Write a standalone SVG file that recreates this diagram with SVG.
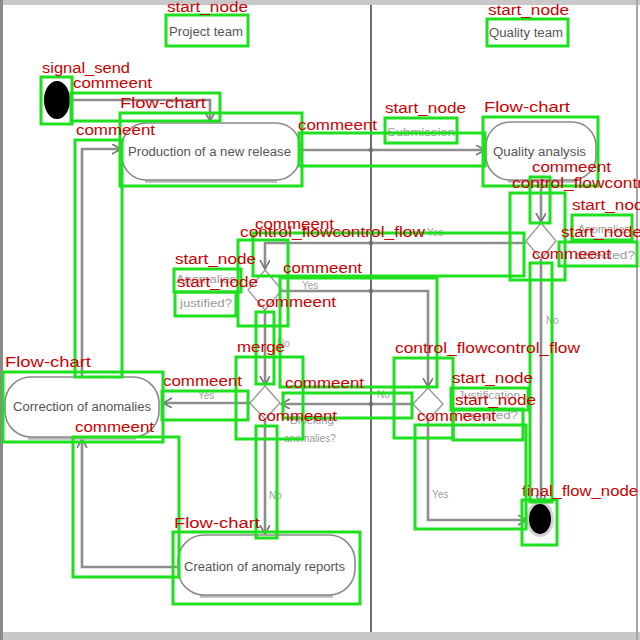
<svg xmlns="http://www.w3.org/2000/svg" width="640" height="640" viewBox="0 0 640 640">
  <defs>
    <marker id="open" markerUnits="userSpaceOnUse" markerWidth="12" markerHeight="12" refX="9" refY="5" orient="auto">
      <path d="M0,0 L9,5 L0,10" fill="none" stroke="#777" stroke-width="1.6"/>
    </marker>
    <style>
      .frame { fill: #c8c8c8; }
      .lane { stroke: #6e6e6e; stroke-width: 2; }
      .edge { fill: none; stroke: #8e8e8e; stroke-width: 2.6; marker-end: url(#open); }
      .act { fill: #ffffff; stroke: #8a8a8a; stroke-width: 1.6; }
      .shadow { fill: none; stroke: #b8b8b8; stroke-width: 3.5; }
      .dia { fill: #ffffff; stroke: #9a9a9a; stroke-width: 1.4; }
      .txt { font-family: "Liberation Sans", Arial, sans-serif; font-size: 12px; fill: #555555; }
      .small { font-family: "Liberation Sans", Arial, sans-serif; font-size: 10px; fill: #9a9a9a; }
      .guard { font-family: "Liberation Sans", Arial, sans-serif; font-size: 10px; fill: #a0a0a0; }
      .box { fill: none; stroke: #1fe01f; stroke-width: 3; }
      .tag { font-family: "Liberation Sans", Arial, sans-serif; font-size: 14px; fill: #cc0000; }
    </style>
  </defs>

  <rect width="640" height="640" fill="#ffffff"/>
  <!-- frame and swimlanes -->
  <rect class="frame" x="0" y="0" width="640" height="5"/>
  <rect class="frame" x="0" y="632" width="640" height="8"/>
  <rect x="0" y="0" width="3" height="640" fill="#8a8a8a"/>
  <rect x="636" y="0" width="2" height="640" fill="#a8a8a8"/>
  <line class="lane" x1="371" y1="5" x2="371" y2="632"/>

  <!-- connectors -->
  <g id="connectors">
    <path class="edge" d="M70,100 H210 V121"/>
    <path class="edge" d="M300,150 H485"/>
    <path class="edge" d="M82,376 V149 H121"/>
    <path class="edge" d="M541,180 V222"/>
    <path class="edge" d="M526,243 H265 V269"/>
    <path class="edge" d="M541,259 V504"/>
    <path class="edge" d="M282,291 H428 V387"/>
    <path class="edge" d="M265,310 V385"/>
    <path class="edge" d="M250,403 H163"/>
    <path class="edge" d="M413,404 H281"/>
    <path class="edge" d="M265,419 V534"/>
    <path class="edge" d="M428,420 V520 H527"/>
    <path class="edge" d="M177,567 H82 V439"/>
    <g fill="#707070">
      <circle cx="371" cy="150" r="2.2"/>
      <circle cx="371" cy="243" r="2.2"/>
      <circle cx="371" cy="291" r="2.2"/>
      <circle cx="371" cy="404" r="2.2"/>
    </g>
    <text class="guard" x="427" y="236">Yes</text>
    <text class="guard" x="302" y="289">Yes</text>
    <text class="guard" x="277" y="347">No</text>
    <text class="guard" x="198" y="399">Yes</text>
    <text class="guard" x="377" y="398">No</text>
    <text class="guard" x="269" y="499">No</text>
    <text class="guard" x="546" y="324">No</text>
    <text class="guard" x="432" y="498">Yes</text>
  </g>

  <!-- lane headers -->
  <g id="lane-project">
    <text class="txt" x="169" y="36" textLength="74" lengthAdjust="spacingAndGlyphs">Project team</text>
  </g>
  <g id="lane-quality">
    <text class="txt" x="489" y="37" textLength="74" lengthAdjust="spacingAndGlyphs">Quality team</text>
  </g>

  <!-- initial node -->
  <g id="initial">
    <ellipse cx="57" cy="100" rx="13" ry="19" fill="#000"/>
  </g>

  <!-- actions -->
  <g id="production">
    <path class="shadow" d="M145,181 H277"/>
    <rect class="act" x="122" y="123" width="178" height="57" rx="24"/>
    <text class="txt" x="128" y="156" textLength="163" lengthAdjust="spacingAndGlyphs">Production of a new release</text>
  </g>
  <g id="submission">
    <text class="small" x="387" y="136" textLength="68" lengthAdjust="spacingAndGlyphs">Submission</text>
  </g>
  <g id="quality-analysis">
    <path class="shadow" d="M508,181 H575"/>
    <rect class="act" x="486" y="122" width="110" height="58" rx="24"/>
    <text class="txt" x="493" y="156" textLength="93" lengthAdjust="spacingAndGlyphs">Quality analysis</text>
  </g>
  <g id="correction">
    <path class="shadow" d="M28,438 H136"/>
    <rect class="act" x="5" y="377" width="154" height="60" rx="26"/>
    <text class="txt" x="13" y="411" textLength="138" lengthAdjust="spacingAndGlyphs">Correction of anomalies</text>
  </g>
  <g id="creation">
    <path class="shadow" d="M200,596 H333"/>
    <rect class="act" x="178" y="535" width="177" height="60" rx="26"/>
    <text class="txt" x="184" y="571" textLength="161" lengthAdjust="spacingAndGlyphs">Creation of anomaly reports</text>
  </g>

  <!-- decisions -->
  <g id="decision-detected">
    <path class="dia" d="M541,223 L556,241 L541,259 L526,241 Z"/>
    <text class="small" x="578" y="233" textLength="52" lengthAdjust="spacingAndGlyphs">Anomalies</text>
    <text class="small" x="575" y="259" textLength="60" lengthAdjust="spacingAndGlyphs">detected?</text>
  </g>
  <g id="decision-justified">
    <path class="dia" d="M265,270 L282,290 L265,310 L248,290 Z"/>
    <text class="small" x="176" y="283" textLength="60" lengthAdjust="spacingAndGlyphs">Anomalies</text>
    <text class="small" x="180" y="307" textLength="52" lengthAdjust="spacingAndGlyphs">justified?</text>
  </g>
  <g id="decision-merge">
    <path class="dia" d="M265,386 L280,403 L265,419 L250,403 Z"/>
    <text class="small" x="290" y="424" textLength="44" lengthAdjust="spacingAndGlyphs">Blocking</text>
    <text class="small" x="284" y="442" textLength="52" lengthAdjust="spacingAndGlyphs">anomalies?</text>
  </g>
  <g id="decision-required">
    <path class="dia" d="M428,388 L443,404 L428,420 L413,404 Z"/>
    <text class="small" x="458" y="399" textLength="62" lengthAdjust="spacingAndGlyphs">Justification</text>
    <text class="small" x="462" y="419" textLength="56" lengthAdjust="spacingAndGlyphs">required?</text>
  </g>

  <!-- final node -->
  <g id="final">
    <ellipse cx="540" cy="519" rx="14" ry="18" fill="#d4d4d4"/>
    <ellipse cx="540" cy="519" rx="11" ry="15" fill="#000"/>
  </g>

  <!-- detection boxes and labels -->
  <g id="detections">
    <rect class="box" x="166" y="15" width="82" height="31"/>
    <text class="tag" x="167" y="12" textLength="81" lengthAdjust="spacingAndGlyphs">start_node</text>

    <rect class="box" x="487" y="19" width="81" height="27"/>
    <text class="tag" x="488" y="15" textLength="81" lengthAdjust="spacingAndGlyphs">start_node</text>

    <rect class="box" x="41" y="77" width="31" height="47"/>
    <text class="tag" x="42" y="73" textLength="88" lengthAdjust="spacingAndGlyphs">signal_send</text>

    <rect class="box" x="71" y="93" width="149" height="28"/>
    <text class="tag" x="73" y="88" textLength="79" lengthAdjust="spacingAndGlyphs">commeent</text>

    <rect class="box" x="120" y="113" width="182" height="73"/>
    <text class="tag" x="120" y="108" textLength="86" lengthAdjust="spacingAndGlyphs">Flow-chart</text>

    <rect class="box" x="75" y="140" width="47" height="237"/>
    <text class="tag" x="76" y="135" textLength="79" lengthAdjust="spacingAndGlyphs">commeent</text>

    <rect class="box" x="299" y="133" width="186" height="33"/>
    <text class="tag" x="298" y="130" textLength="79" lengthAdjust="spacingAndGlyphs">commeent</text>

    <rect class="box" x="385" y="118" width="72" height="25"/>
    <text class="tag" x="385" y="113" textLength="81" lengthAdjust="spacingAndGlyphs">start_node</text>

    <rect class="box" x="483" y="117" width="115" height="69"/>
    <text class="tag" x="484" y="112" textLength="86" lengthAdjust="spacingAndGlyphs">Flow-chart</text>

    <rect class="box" x="530" y="177" width="20" height="46"/>
    <text class="tag" x="532" y="172" textLength="79" lengthAdjust="spacingAndGlyphs">commeent</text>

    <rect class="box" x="510" y="193" width="55" height="87"/>
    <text class="tag" x="512" y="188" textLength="185" lengthAdjust="spacingAndGlyphs">control_flowcontrol_flow</text>

    <rect class="box" x="572" y="215" width="60" height="25"/>
    <text class="tag" x="572" y="210" textLength="81" lengthAdjust="spacingAndGlyphs">start_node</text>

    <rect class="box" x="559" y="242" width="78" height="24"/>
    <text class="tag" x="561" y="237" textLength="81" lengthAdjust="spacingAndGlyphs">start_node</text>

    <rect class="box" x="530" y="263" width="22" height="239"/>
    <text class="tag" x="532" y="259" textLength="79" lengthAdjust="spacingAndGlyphs">commeent</text>

    <rect class="box" x="522" y="500" width="35" height="45"/>
    <text class="tag" x="522" y="496" textLength="116" lengthAdjust="spacingAndGlyphs">final_flow_node</text>

    <rect class="box" x="253" y="233" width="271" height="43"/>
    <text class="tag" x="255" y="229" textLength="79" lengthAdjust="spacingAndGlyphs">commeent</text>

    <rect class="box" x="238" y="240" width="50" height="86"/>
    <text class="tag" x="240" y="237" textLength="185" lengthAdjust="spacingAndGlyphs">control_flowcontrol_flow</text>

    <rect class="box" x="174" y="269" width="67" height="23"/>
    <text class="tag" x="175" y="264" textLength="81" lengthAdjust="spacingAndGlyphs">start_node</text>

    <rect class="box" x="175" y="292" width="61" height="24"/>
    <text class="tag" x="177" y="287" textLength="81" lengthAdjust="spacingAndGlyphs">start_node</text>

    <rect class="box" x="280" y="278" width="157" height="109"/>
    <text class="tag" x="283" y="273" textLength="79" lengthAdjust="spacingAndGlyphs">commeent</text>

    <rect class="box" x="256" y="312" width="18" height="72"/>
    <text class="tag" x="257" y="307" textLength="79" lengthAdjust="spacingAndGlyphs">commeent</text>

    <rect class="box" x="236" y="357" width="67" height="82"/>
    <text class="tag" x="237" y="352" textLength="48" lengthAdjust="spacingAndGlyphs">merge</text>

    <rect class="box" x="162" y="391" width="86" height="29"/>
    <text class="tag" x="163" y="386" textLength="79" lengthAdjust="spacingAndGlyphs">commeent</text>

    <rect class="box" x="3" y="372" width="160" height="70"/>
    <text class="tag" x="5" y="367" textLength="86" lengthAdjust="spacingAndGlyphs">Flow-chart</text>

    <rect class="box" x="283" y="393" width="129" height="25"/>
    <text class="tag" x="285" y="388" textLength="79" lengthAdjust="spacingAndGlyphs">commeent</text>

    <rect class="box" x="256" y="426" width="21" height="112"/>
    <text class="tag" x="258" y="421" textLength="79" lengthAdjust="spacingAndGlyphs">commeent</text>

    <rect class="box" x="73" y="437" width="106" height="140"/>
    <text class="tag" x="75" y="432" textLength="79" lengthAdjust="spacingAndGlyphs">commeent</text>

    <rect class="box" x="173" y="532" width="187" height="72"/>
    <text class="tag" x="174" y="528" textLength="86" lengthAdjust="spacingAndGlyphs">Flow-chart</text>

    <rect class="box" x="394" y="358" width="59" height="80"/>
    <text class="tag" x="395" y="353" textLength="185" lengthAdjust="spacingAndGlyphs">control_flowcontrol_flow</text>

    <rect class="box" x="451" y="388" width="77" height="22"/>
    <text class="tag" x="452" y="383" textLength="81" lengthAdjust="spacingAndGlyphs">start_node</text>

    <rect class="box" x="453" y="409" width="70" height="31"/>
    <text class="tag" x="455" y="405" textLength="81" lengthAdjust="spacingAndGlyphs">start_node</text>

    <rect class="box" x="415" y="425" width="111" height="104"/>
    <text class="tag" x="417" y="421" textLength="79" lengthAdjust="spacingAndGlyphs">commeent</text>
  </g>
</svg>
